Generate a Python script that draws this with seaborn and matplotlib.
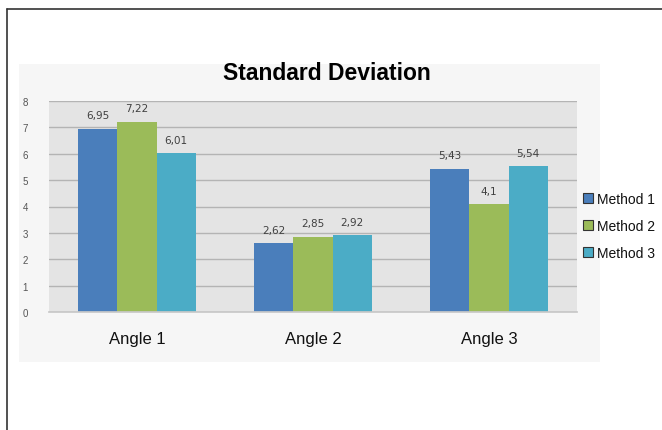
import matplotlib
matplotlib.use("Agg")
import matplotlib.pyplot as plt
import seaborn as sns
import pandas as pd
from matplotlib.patches import Rectangle
from matplotlib.lines import Line2D

categories = ["Angle 1", "Angle 2", "Angle 3"]
methods = ["Method 1", "Method 2", "Method 3"]
method1 = [6.95, 2.62, 5.43]
method2 = [7.22, 2.85, 4.10]
method3 = [6.01, 2.92, 5.54]
yticks = [0, 1, 2, 3, 4, 5, 6, 7, 8]
colors = ["#4a7ebb", "#9bbb59", "#4bacc6"]

rows = []
for m, vals in zip(methods, [method1, method2, method3]):
    for c, v in zip(categories, vals):
        rows.append({"Angle": c, "Method": m, "Value": v})
df = pd.DataFrame(rows)

sns.set_theme(style="white")
plt.rcParams['font.family'] = ['Liberation Sans', 'DejaVu Sans']

W, H = 662, 431
fig = plt.figure(figsize=(W/100, H/100), dpi=100)
fig.patch.set_facecolor("white")
# faint chart area
fig.patches.append(Rectangle((19/W, 1-363/H), (600-19)/W, (363-65)/H,
                             transform=fig.transFigure, facecolor="#f6f6f6",
                             edgecolor="none", zorder=-5))
# border lines
fig.lines.append(Line2D([7/W, 7/W], [0, 1-10/H], transform=fig.transFigure, color="#333333", lw=1.2))
fig.lines.append(Line2D([7/W, 1], [1-10/H, 1-10/H], transform=fig.transFigure, color="#333333", lw=1.2))

ax = fig.add_axes([49/W, 1-313/H, (577-49)/W, (313-102)/H])
ax.set_zorder(2)
ax.set_facecolor("#e4e4e4")
sns.barplot(data=df, x="Angle", y="Value", hue="Method", order=categories,
            hue_order=methods, palette=colors, width=0.67, saturation=1,
            ax=ax, legend=True, edgecolor="none", linewidth=0)
ax.set_ylim(0, 8)
ax.set_yticks(yticks)
ax.set_yticklabels([str(t) for t in yticks], fontsize=7, color="#555555")
ax.tick_params(axis="y", length=0, pad=15)
ax.tick_params(axis="x", length=0, pad=14, labelsize=12, labelcolor="#111111")
ax.set_xlabel("")
ax.set_ylabel("")
ax.yaxis.grid(True, color="#b4b4b4", lw=1)
ax.set_axisbelow(True)
for s in ax.spines.values():
    s.set_visible(False)
ax.spines["bottom"].set_visible(True)
ax.spines["bottom"].set_color("#c8c8c8")

for cont in ax.containers:
    labels = [f"{v:g}".replace(".", ",") for v in cont.datavalues]
    ax.bar_label(cont, labels=labels, padding=6, fontsize=7.5, color="#404040",
                 family=['DejaVu Sans'])

fig.text(327/W, 1-80/H, "Standard Deviation", fontsize=16.5, fontweight="bold",
         ha="center", va="baseline", color="black")

leg = ax.legend(loc="center left", bbox_to_anchor=(583/W, 1-227/H),
                bbox_transform=fig.transFigure, frameon=False,
                borderaxespad=0, borderpad=0,
                fontsize=10, handlelength=0.7, handleheight=0.7, handletextpad=0.3,
                labelspacing=0.95)
for h in leg.legend_handles:
    h.set_edgecolor("#333333")
    h.set_linewidth(0.8)
for t in leg.get_texts():
    t.set_color("#111111")

fig.savefig("out.png", dpi=100)
